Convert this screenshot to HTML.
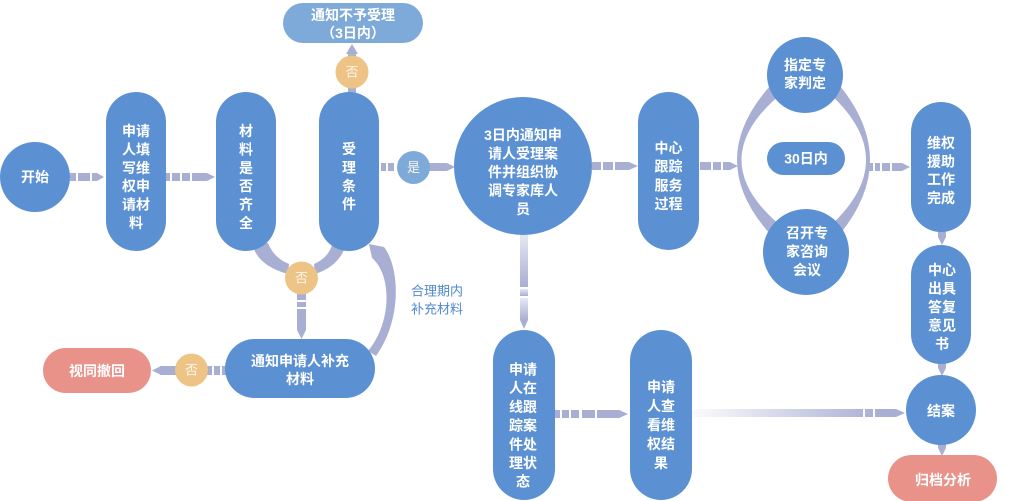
<!DOCTYPE html>
<html>
<head>
<meta charset="utf-8">
<style>
  html,body{margin:0;padding:0;background:#ffffff;}
  svg{display:block;}
  text{font-family:"Liberation Sans","Noto Sans CJK SC",sans-serif;}
  .n{fill:#ffffff;font-size:14px;font-weight:bold;text-anchor:middle;dominant-baseline:central;}
  .l{fill:#fdf5ea;font-size:13px;text-anchor:middle;dominant-baseline:central;}
  .c{fill:#a9afd3;}
</style>
</head>
<body>
<svg width="1013" height="501" viewBox="0 0 1013 501" xmlns="http://www.w3.org/2000/svg">
  <defs>
    <linearGradient id="gv" x1="0" y1="0" x2="0" y2="1">
      <stop offset="0" stop-color="#e6e8f2"/>
      <stop offset="1" stop-color="#a9afd3"/>
    </linearGradient>
    <linearGradient id="gh" gradientUnits="userSpaceOnUse" x1="693" y1="0" x2="880" y2="0">
      <stop offset="0" stop-color="#fbfbfd"/>
      <stop offset="1" stop-color="#a9afd3"/>
    </linearGradient>
  </defs>
  <rect width="1013" height="501" fill="#ffffff"/>

  <!-- ===== connectors ===== -->
  <g class="c">
    <rect x="70" y="173" width="6" height="8"/>
    <rect x="78" y="173" width="12" height="8"/>
    <rect x="92" y="173" width="5" height="8"/>
    <polygon points="97,173 104,177 97,181"/>
  </g>
  <g class="c">
    <rect x="166" y="173" width="4" height="8"/>
    <rect x="172" y="173" width="8" height="8"/>
    <rect x="182" y="173" width="8" height="8"/>
    <rect x="192" y="173" width="15" height="8"/>
    <polygon points="207,173 215,177 207,181"/>
  </g>
  <g class="c">
    <rect x="381" y="163" width="5" height="8"/>
    <rect x="388" y="163" width="6" height="8"/>
    <rect x="428" y="163" width="19" height="8"/>
    <polygon points="447,163 455,167 447,171"/>
  </g>
  <g class="c">
    <rect x="348" y="52" width="8" height="42"/>
    <polygon points="346,54 352,44 358,54"/>
  </g>
  <g class="c">
    <rect x="592" y="162" width="9" height="8"/>
    <rect x="603" y="162" width="10" height="8"/>
    <rect x="615" y="162" width="14" height="8"/>
    <polygon points="629,162 638,166 629,170"/>
  </g>
  <g class="c">
    <rect x="700" y="162" width="11" height="8"/>
    <rect x="713" y="162" width="8" height="8"/>
    <rect x="723" y="162" width="7" height="8"/>
    <polygon points="730,162 738,166 730,170"/>
  </g>
  <g class="c">
    <rect x="867" y="163" width="6" height="8"/>
    <rect x="875" y="163" width="5" height="8"/>
    <rect x="882" y="163" width="8" height="8"/>
    <rect x="892" y="163" width="10" height="8"/>
    <polygon points="902,163 910,167 902,171"/>
  </g>
  <g class="c">
    <rect x="938" y="228" width="8" height="9"/>
    <polygon points="938,237 942,245 946,237"/>
    <rect x="938" y="360" width="8" height="8"/>
    <polygon points="938,368 942,376 946,368"/>
    <rect x="938" y="440" width="8" height="8"/>
    <polygon points="938,448 942,456 946,448"/>
  </g>
  <g fill="url(#gv)">
    <rect x="520" y="234" width="8" height="53"/>
    <rect x="520" y="289" width="8" height="7"/>
    <rect x="520" y="298" width="8" height="22"/>
  </g>
  <polygon points="520,320 524,329 528,320" fill="#a9afd3"/>
  <g class="c">
    <rect x="555" y="410" width="5" height="8"/>
    <rect x="562" y="410" width="7" height="8"/>
    <rect x="571" y="410" width="8" height="8"/>
    <rect x="582" y="410" width="13" height="8"/>
    <rect x="597" y="410" width="22" height="8"/>
    <polygon points="619,410 628,414 619,418"/>
  </g>
  <g fill="url(#gh)">
    <rect x="692" y="409" width="171" height="8"/>
    <rect x="865" y="409" width="8" height="8"/>
    <rect x="875" y="409" width="21" height="8"/>
  </g>
  <polygon points="896,409 905,413 896,417" fill="#a9afd3"/>

  <path class="c" d="M252 244 Q258 266 288 274 L289 264 Q274 258 268 243 Z"/>
  <path class="c" d="M346 244 Q340 266 315 274 L314 264 Q328 258 332 245 Z"/>
  <g class="c">
    <rect x="297" y="294" width="9" height="6"/>
    <rect x="297" y="302" width="9" height="5"/>
    <rect x="297" y="309" width="9" height="21"/>
    <polygon points="297,330 301.5,339 306,330"/>
  </g>
  <g class="c">
    <rect x="207" y="366" width="5" height="9"/>
    <rect x="214" y="366" width="6" height="9"/>
    <rect x="222" y="366" width="5" height="9"/>
    <rect x="160" y="366" width="17" height="9"/>
    <polygon points="161,366 152,370.5 161,375"/>
  </g>
  <!-- 通知补充 -> 受理 tapered curve -->
  <path class="c" d="M369 244 L384 247 C400 268, 402 320, 376 356 L368 351 C392 322, 392 275, 372 258 Z"/>

  <path class="c" d="M770 86 Q704 160 770 234 L781 226 Q702 160 781 94 Z"/>
  <path class="c" d="M840 86 Q900 160 840 234 L830 226 Q902 160 830 94 Z"/>

  <!-- ===== nodes ===== -->
  <circle cx="35" cy="177" r="35" fill="#5b90d3"/>
  <text class="n" x="35" y="177">开始</text>

  <rect x="106" y="92" width="60" height="159" rx="30" fill="#5b90d3"/>
  <text class="n" x="136" y="131">申请</text>
  <text class="n" x="136" y="149.4">人填</text>
  <text class="n" x="136" y="167.8">写维</text>
  <text class="n" x="136" y="186.2">权申</text>
  <text class="n" x="136" y="204.6">请材</text>
  <text class="n" x="136" y="223">料</text>

  <rect x="216" y="92" width="60" height="159" rx="30" fill="#5b90d3"/>
  <text class="n" x="246" y="131">材</text>
  <text class="n" x="246" y="149.4">料</text>
  <text class="n" x="246" y="167.8">是</text>
  <text class="n" x="246" y="186.2">否</text>
  <text class="n" x="246" y="204.6">齐</text>
  <text class="n" x="246" y="223">全</text>

  <rect x="319" y="92" width="60" height="159" rx="30" fill="#5b90d3"/>
  <text class="n" x="349" y="149">受</text>
  <text class="n" x="349" y="167.4">理</text>
  <text class="n" x="349" y="185.8">条</text>
  <text class="n" x="349" y="204.2">件</text>

  <rect x="283" y="3" width="140" height="40" rx="20" fill="#7eaad9"/>
  <text class="n" x="353" y="15">通知不予受理</text>
  <text class="n" x="353" y="33">（3日内）</text>

  <circle cx="352" cy="72" r="16.5" fill="#edc486"/>
  <text class="l" x="352" y="72">否</text>

  <circle cx="413.5" cy="167.5" r="16.5" fill="#7eaad9"/>
  <text class="l" x="413.5" y="167.5">是</text>

  <circle cx="301.5" cy="278" r="16.5" fill="#edc486"/>
  <text class="l" x="301.5" y="278">否</text>

  <rect x="225" y="339" width="150" height="59" rx="29.5" fill="#5b90d3"/>
  <text class="n" x="300" y="361">通知申请人补充</text>
  <text class="n" x="300" y="379">材料</text>

  <circle cx="191.5" cy="370" r="16.5" fill="#edc486"/>
  <text class="l" x="191.5" y="370">否</text>

  <rect x="43" y="348" width="108" height="45" rx="22.5" fill="#e9928a"/>
  <text class="n" x="97" y="371">视同撤回</text>

  <text x="437" y="291" font-size="13" fill="#4f87d2" text-anchor="middle" dominant-baseline="central">合理期内</text>
  <text x="437" y="309" font-size="13" fill="#4f87d2" text-anchor="middle" dominant-baseline="central">补充材料</text>

  <circle cx="523" cy="166" r="69" fill="#5b90d3"/>
  <text class="n" x="523" y="135">3日内通知申</text>
  <text class="n" x="523" y="153.5">请人受理案</text>
  <text class="n" x="523" y="172">件并组织协</text>
  <text class="n" x="523" y="190.5">调专家库人</text>
  <text class="n" x="523" y="209">员</text>

  <rect x="638" y="92" width="61" height="158" rx="30.5" fill="#5b90d3"/>
  <text class="n" x="668.5" y="148">中心</text>
  <text class="n" x="668.5" y="166.7">跟踪</text>
  <text class="n" x="668.5" y="185.4">服务</text>
  <text class="n" x="668.5" y="204">过程</text>

  <circle cx="805" cy="75" r="38" fill="#5b90d3"/>
  <text class="n" x="805" y="65">指定专</text>
  <text class="n" x="805" y="83">家判定</text>

  <rect x="767" y="142" width="78" height="33" rx="16.5" fill="#5b90d3"/>
  <text class="n" x="806" y="158.5">30日内</text>

  <circle cx="806" cy="252" r="43" fill="#5b90d3"/>
  <text class="n" x="807" y="233">召开专</text>
  <text class="n" x="807" y="251.5">家咨询</text>
  <text class="n" x="807" y="270">会议</text>

  <rect x="911" y="102" width="60" height="130" rx="30" fill="#5b90d3"/>
  <text class="n" x="941" y="143">维权</text>
  <text class="n" x="941" y="161.3">援助</text>
  <text class="n" x="941" y="179.6">工作</text>
  <text class="n" x="941" y="198">完成</text>

  <rect x="911" y="245" width="60" height="119" rx="30" fill="#5b90d3"/>
  <text class="n" x="942" y="270">中心</text>
  <text class="n" x="942" y="288.5">出具</text>
  <text class="n" x="942" y="307">答复</text>
  <text class="n" x="942" y="325.5">意见</text>
  <text class="n" x="942" y="344">书</text>

  <circle cx="941" cy="410" r="35" fill="#5b90d3"/>
  <text class="n" x="941" y="411">结案</text>

  <rect x="888" y="455" width="109" height="47" rx="23.5" fill="#e9928a"/>
  <text class="n" x="943" y="480">归档分析</text>

  <rect x="493" y="330" width="62" height="170" rx="31" fill="#5b90d3"/>
  <text class="n" x="523" y="369.5">申请</text>
  <text class="n" x="523" y="388.2">人在</text>
  <text class="n" x="523" y="406.9">线跟</text>
  <text class="n" x="523" y="425.6">踪案</text>
  <text class="n" x="523" y="444.3">件处</text>
  <text class="n" x="523" y="463">理状</text>
  <text class="n" x="523" y="481.7">态</text>

  <rect x="630" y="330" width="62" height="170" rx="31" fill="#5b90d3"/>
  <text class="n" x="661" y="387">申请</text>
  <text class="n" x="661" y="406">人查</text>
  <text class="n" x="661" y="425">看维</text>
  <text class="n" x="661" y="444">权结</text>
  <text class="n" x="661" y="463">果</text>
</svg>
</body>
</html>
